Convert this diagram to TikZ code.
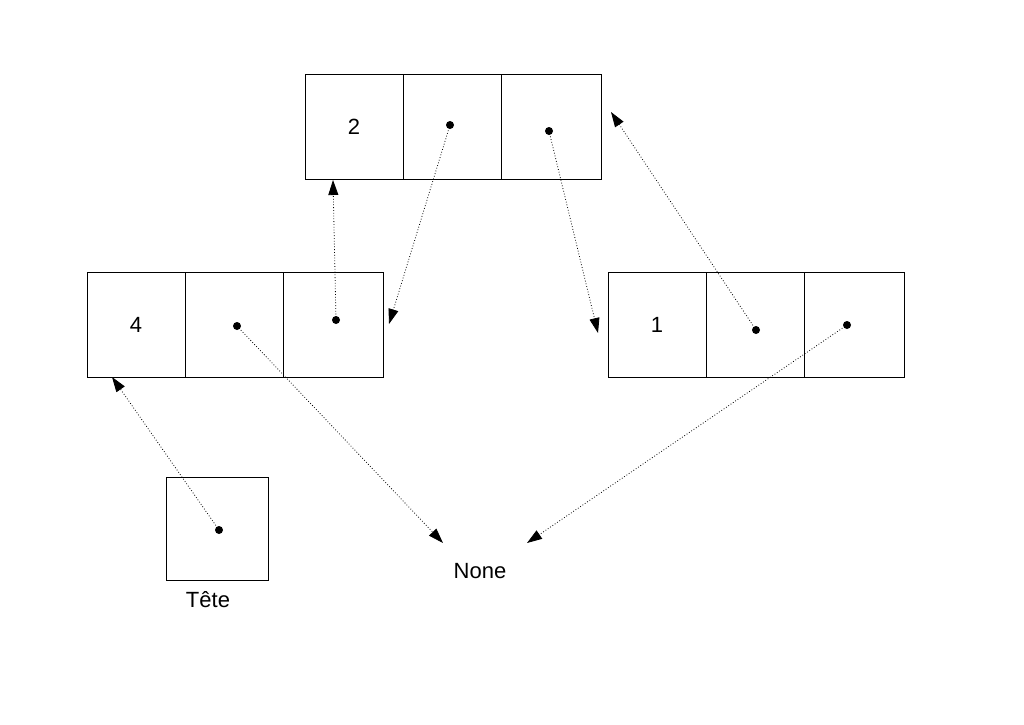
\documentclass[tikz,border=0pt]{standalone}
\usepackage{fontspec}
\setmainfont{Liberation Sans}
\usetikzlibrary{arrows.meta}
\begin{document}
\begin{tikzpicture}[x=1pt,y=-1pt,
  cell/.style={draw=black, line width=0.9pt, minimum width=98pt, minimum height=105pt,
    inner sep=0pt, outer sep=0pt, anchor=north west, font=\fontsize{22}{26}\selectfont},
  ptr/.style={fill=black, circle, inner sep=0pt, minimum size=8pt},
  link/.style={dotted, line width=0.8pt, -{Triangle[length=15pt,width=10pt]}},
  lbl/.style={font=\fontsize{22}{26}\selectfont}]
\useasboundingbox (0,0) rectangle (1024,724);

% top list node: value 2
\node[cell] (t1) at (305,74) {2};
\node[cell] (t2) at (403,74) {};
\node[cell, minimum width=100pt] (t3) at (501,74) {};
% left list node: value 4
\node[cell] (l1) at (87,272) {4};
\node[cell] (l2) at (185,272) {};
\node[cell, minimum width=100pt] (l3) at (283,272) {};
% right list node: value 1
\node[cell] (r1) at (608,272) {1};
\node[cell] (r2) at (706,272) {};
\node[cell, minimum width=100pt] (r3) at (804,272) {};
% head pointer
\node[cell, minimum width=102pt, minimum height=103pt] (h) at (166,477) {};
\node[lbl] (hl) at (208,600) {Tête};
\node[lbl] (none) at (480,571) {None};

% pointer dots
\node[ptr] (pt2) at (450,125) {};
\node[ptr] (pt3) at (549,131) {};
\node[ptr] (pl2) at (237,326) {};
\node[ptr] (pl3) at (336,320) {};
\node[ptr] (pr2) at (756,330) {};
\node[ptr] (pr3) at (847,325) {};
\node[ptr] (ph) at (219,530) {};

% arrow ends
\coordinate (at1) at (333,180);
\coordinate (al3) at (389,324);
\coordinate (ar1) at (598,333);
\coordinate (at3) at (611,112);
\coordinate (an1) at (443,543);
\coordinate (an2) at (527,543);
\coordinate (al1) at (112,377);

\draw[link] (pl3.center) -- (at1);
\draw[link] (pt2.center) -- (al3);
\draw[link] (pt3.center) -- (ar1);
\draw[link] (pr2.center) -- (at3);
\draw[link] (pl2.center) -- (an1);
\draw[link] (pr3.center) -- (an2);
\draw[link] (ph.center) -- (al1);
\end{tikzpicture}
\end{document}
